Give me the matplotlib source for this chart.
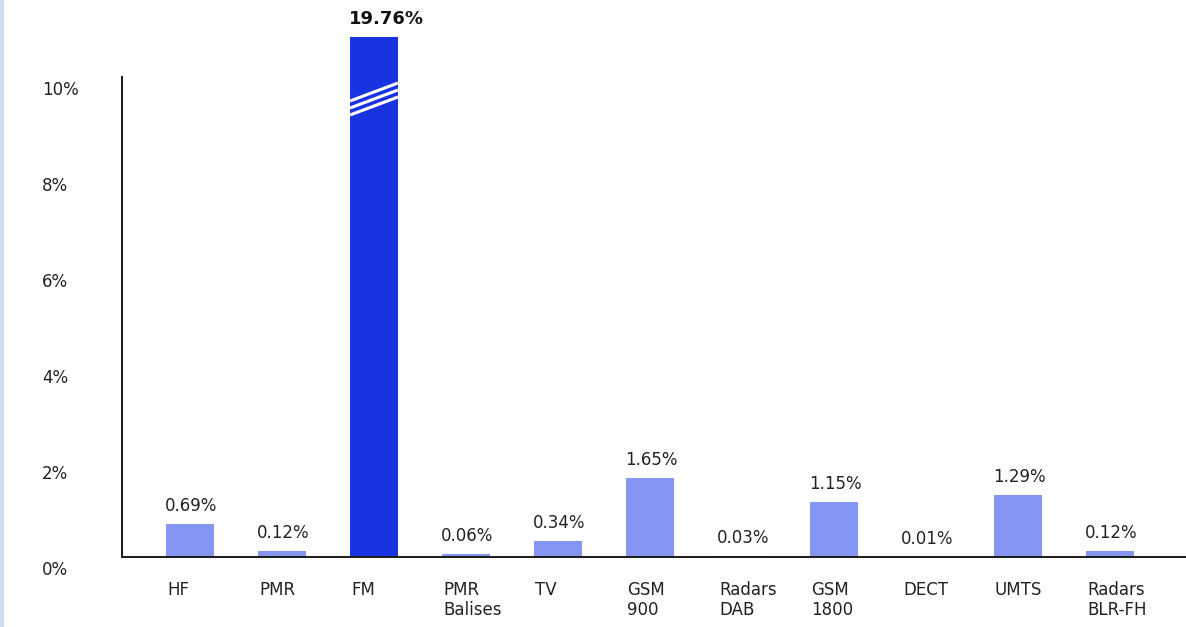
import matplotlib
matplotlib.use("Agg")
import matplotlib.pyplot as plt
import matplotlib.transforms as mtransforms
from matplotlib.patches import Rectangle

# Exposure share per source (% of the total field)
categories = ["HF", "PMR", "FM", "PMR\nBalises", "TV", "GSM\n900",
              "Radars\nDAB", "GSM\n1800", "DECT", "UMTS", "Radars\nBLR-FH"]
values = [0.69, 0.12, 19.76, 0.06, 0.34, 1.65, 0.03, 1.15, 0.01, 1.29, 0.12]
value_labels = ["0.69%", "0.12%", "19.76%", "0.06%", "0.34%", "1.65%",
                "0.03%", "1.15%", "0.01%", "1.29%", "0.12%"]
y_ticks = [0, 2, 4, 6, 8, 10]
y_tick_labels = ["0%", "2%", "4%", "6%", "8%", "10%"]

# Styling
W, H, DPI = 1186, 627, 100
PX_PER_UNIT_Y = 48.0        # pixels per percentage point
PX_PER_BAR = 92.0           # pixels between bar centres
BASE_PX = 557               # baseline row (from top)
FIRST_BAR_PX = 190          # first bar centre (from left)
AXIS_PX = 122               # vertical axis column
BAR_W = 48 / PX_PER_BAR
CLIP = 10.83                # bars above this are drawn broken
LIGHT = "#8595f2"
DARK = "#1a33e0"
TXT = "#222222"
FONT = "DejaVu Sans"
PT = 72.0 / DPI             # points per pixel

fig = plt.figure(figsize=(W / DPI, H / DPI), dpi=DPI)
fig.patch.set_facecolor("white")
ax = fig.add_axes([0, 0, 1, 1])
ax.set_facecolor("white")

x_lo = -FIRST_BAR_PX / PX_PER_BAR
x_hi = (W - FIRST_BAR_PX) / PX_PER_BAR
y_lo = -(H - BASE_PX) / PX_PER_UNIT_Y
y_hi = BASE_PX / PX_PER_UNIT_Y
ax.set_xlim(x_lo, x_hi)
ax.set_ylim(y_lo, y_hi)

xpos = list(range(len(categories)))
heights = [min(v, CLIP) for v in values]
colors = [DARK if v > CLIP else LIGHT for v in values]
ax.bar(xpos, heights, width=BAR_W, color=colors, zorder=2)

# Axis lines
axis_x = (AXIS_PX - FIRST_BAR_PX) / PX_PER_BAR
for s in ["top", "right"]:
    ax.spines[s].set_visible(False)
ax.spines["left"].set_position(("data", axis_x))
ax.spines["left"].set_bounds(0, 10)
ax.spines["bottom"].set_position(("data", 0))
ax.spines["bottom"].set_bounds(axis_x, x_hi)
for s in ["left", "bottom"]:
    ax.spines[s].set_color("#1a1a1a")
    ax.spines[s].set_linewidth(1.4)
    ax.spines[s].set_zorder(3)

# Y tick labels, sitting a little below their gridline positions
ax.set_yticks(y_ticks)
ax.set_yticklabels(y_tick_labels, fontsize=12, color=TXT, family=FONT, ha="left")
ax.tick_params(axis="y", length=0, pad=0)
shift = mtransforms.ScaledTranslation(0, -11 / DPI, fig.dpi_scale_trans)
for lab in ax.get_yticklabels():
    lab.set_transform(mtransforms.blended_transform_factory(fig.transFigure, ax.transData) + shift)
    lab.set_x(42 / W)
ax.set_xticks([])

# Category labels, left-aligned with each bar
for x, name in zip(xpos, categories):
    ax.annotate(name, xy=(x - BAR_W / 2, 0), xytext=(1 * PT, -24 * PT),
                textcoords="offset points", ha="left", va="top",
                fontsize=12, color=TXT, family=FONT, linespacing=1.15)

# Value labels above bars, left-aligned with each bar
for x, h, v, lab in zip(xpos, heights, values, value_labels):
    bold = v > CLIP
    ax.annotate(lab, xy=(x - BAR_W / 2, h), xytext=(-1 * PT, 18 * PT),
                textcoords="offset points", ha="left", va="center",
                fontsize=13 if bold else 12,
                fontweight="bold" if bold else "normal",
                color="#111111" if bold else TXT, family=FONT)

# Break marks on clipped bars
for x, v in zip(xpos, values):
    if v > CLIP:
        left, right = x - BAR_W / 2, x + BAR_W / 2
        for k in range(3):
            y0 = (BASE_PX - (101 + 7 * k)) / PX_PER_UNIT_Y
            y1 = (BASE_PX - (83 + 7 * k)) / PX_PER_UNIT_Y
            ax.plot([left, right], [y0, y1], color="white", lw=2.2,
                    solid_capstyle="butt", zorder=4)

# Thin pale frame line at the left edge
fig.patches.append(Rectangle((0, 0), 3 / W, 1, transform=fig.transFigure,
                             color="#cfe0f3", zorder=0))

fig.savefig("out.png", dpi=DPI)
